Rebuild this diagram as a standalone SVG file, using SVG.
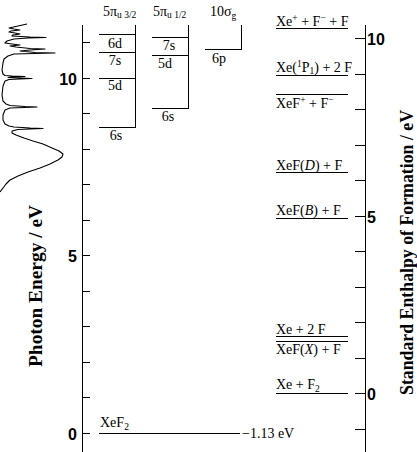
<svg xmlns="http://www.w3.org/2000/svg" width="417" height="452" viewBox="0 0 417 452">
<style>
.ln{stroke:#000;stroke-width:1;fill:none;shape-rendering:crispEdges}
.sp{stroke:#000;stroke-width:1.1;fill:none;stroke-linejoin:round}
.lbl{font-family:"Liberation Serif","Times New Roman",serif;font-size:14px;fill:#000}
.sub{font-size:9.5px}
.num{font-family:"Liberation Sans",Arial,sans-serif;font-size:16px;font-weight:bold;fill:#000}
.ttl{font-family:"Liberation Serif","Times New Roman",serif;font-size:19px;font-weight:bold;fill:#000}
</style>
<rect width="417" height="452" fill="#fff"/>
<g id="spectrum">
<path class="sp" d="M27,24 L18,26 L9,28 L14,29 L20,30 L11,31 L9,32 L15,33 L20,34 L13,35 L12,36 L30,37 L46,37.5 L28,38 L14,39 L7,41 L5,43 L12,44 L20,45 L10,46 L16,47 L30,48.5 L45,49 L30,50 L20,51 L35,52.5 L55,53 L35,53.5 L14,54 L8,56 L4,59 L3,63 L2,70 L3,74 L5,75.5 L12,76 L25,76.5 L12,77 L8,77.5 L20,78 L32,78.5 L20,79 L9,79.5 L5,81 L3,86 L2,95 L3,101 L6,104 L10,105.5 L25,106.5 L37,107 L25,107.5 L10,108 L5,110 L3,115 L3,120 L5,124 L9,126 L14,127 L30,128 L43,128.5 L30,129 L18,129.5 L12,131 L12,133 L16,135 L24,138 L33,141 L43,144 L52,148 L59,151 L63,154 L62,157 L58,160 L50,164 L40,168 L28,172 L18,176 L10,180 L6,184 L3,188 L0,192"/>
</g>
<g id="connectors">
<g id="left-axis">
<path class="ln" d="M82.5,25 V452 M82.5,433.5 H90 M82.5,397.5 H90 M82.5,362.5 H90 M82.5,326.5 H90 M82.5,291.5 H90 M82.5,255.5 H90 M82.5,220.5 H90 M82.5,184.5 H90 M82.5,149.5 H90 M82.5,113.5 H90 M82.5,78.5 H90 M82.5,42.5 H90"/>
<text class="num" x="77" y="85" text-anchor="end">10</text>
<text class="num" x="77" y="262" text-anchor="end">5</text>
<text class="num" x="77" y="440" text-anchor="end">0</text>
<text class="ttl" transform="translate(42,286) rotate(-90)" text-anchor="middle" textLength="162" lengthAdjust="spacingAndGlyphs">Photon Energy / eV</text>
</g>
<g id="right-axis">
<path class="ln" d="M365.5,25 V452 M355,429.5 H365.5 M355,393.5 H365.5 M355,358.5 H365.5 M355,322.5 H365.5 M355,287.5 H365.5 M355,251.5 H365.5 M355,216.5 H365.5 M355,180.5 H365.5 M355,145.5 H365.5 M355,109.5 H365.5 M355,74.5 H365.5 M355,38.5 H365.5"/>
<text class="num" x="367" y="45">10</text>
<text class="num" x="367" y="223">5</text>
<text class="num" x="367" y="400">0</text>
<text class="ttl" transform="translate(413,252.5) rotate(-90)" text-anchor="middle" textLength="285" lengthAdjust="spacingAndGlyphs">Standard Enthalpy of Formation / eV</text>
</g>
</g>
<g id="pi-u-3-2">
<path class="ln" d="M135.5,25 V127.5 M99,34.5 H135.5 M99,52.5 H135.5 M99,78.5 H135.5 M99,127.5 H135.5"/>
<text class="lbl" x="103" y="16">5π<tspan class="sub" dy="2">u 3/2</tspan></text>
<text class="lbl" x="115" y="48" text-anchor="middle">6d</text>
<text class="lbl" x="115" y="65" text-anchor="middle">7s</text>
<text class="lbl" x="115" y="90" text-anchor="middle">5d</text>
<text class="lbl" x="116" y="140" text-anchor="middle">6s</text>
</g>
<g id="pi-u-1-2">
<path class="ln" d="M188.5,25 V108.5 M151.5,37.5 H188.5 M151.5,55.5 H188.5 M151.5,108.5 H188.5"/>
<text class="lbl" x="153" y="16">5π<tspan class="sub" dy="2">u 1/2</tspan></text>
<text class="lbl" x="169" y="50" text-anchor="middle">7s</text>
<text class="lbl" x="165" y="68" text-anchor="middle">5d</text>
<text class="lbl" x="168" y="121" text-anchor="middle">6s</text>
</g>
<g id="sigma-g">
<path class="ln" d="M241.5,25 V49.5 M205,49.5 H241.5"/>
<text class="lbl" x="210" y="16">10σ<tspan class="sub" dy="3">g</tspan></text>
<text class="lbl" x="219" y="63" text-anchor="middle">6p</text>
</g>
<g id="xef2">
<path class="ln" d="M99,433.5 H240"/>
<text class="lbl" x="100" y="427">XeF<tspan class="sub" dy="3">2</tspan></text>
<text class="lbl" x="242" y="438">−1.13 eV</text>
</g>
<g id="xe-ion">
<path class="ln" d="M276,28.5 H348"/>
<text class="lbl" x="276" y="26">Xe<tspan class="sub" dy="-5">+</tspan><tspan dy="5"> + F</tspan><tspan class="sub" dy="-5">−</tspan><tspan dy="5"> + F</tspan></text>
</g>
<g id="xe-1p1">
<path class="ln" d="M276,75.5 H348"/>
<text class="lbl" x="276" y="72">Xe(<tspan class="sub" dy="-5">1</tspan><tspan dy="5">P</tspan><tspan class="sub" dy="2">1</tspan><tspan dy="-2">) + 2 F</tspan></text>
</g>
<g id="xef-ion">
<path class="ln" d="M276,94.5 H348"/>
<text class="lbl" x="276" y="108">XeF<tspan class="sub" dy="-5">+</tspan><tspan dy="5"> + F</tspan><tspan class="sub" dy="-5">−</tspan></text>
</g>
<g id="xef-d">
<path class="ln" d="M276,172.5 H348"/>
<text class="lbl" x="276" y="170">XeF(<tspan font-style="italic">D</tspan>) + F</text>
</g>
<g id="xef-b">
<path class="ln" d="M276,218.5 H348"/>
<text class="lbl" x="276" y="215">XeF(<tspan font-style="italic">B</tspan>) + F</text>
</g>
<g id="xe-2f">
<path class="ln" d="M276,336.5 H348"/>
<text class="lbl" x="276" y="334">Xe + 2 F</text>
</g>
<g id="xef-x">
<path class="ln" d="M276,341.5 H348"/>
<text class="lbl" x="276" y="354">XeF(<tspan font-style="italic">X</tspan>) + F</text>
</g>
<g id="xe-f2">
<path class="ln" d="M276,393.5 H348"/>
<text class="lbl" x="276" y="389">Xe + F<tspan class="sub" dy="3">2</tspan></text>
</g>
</svg>
